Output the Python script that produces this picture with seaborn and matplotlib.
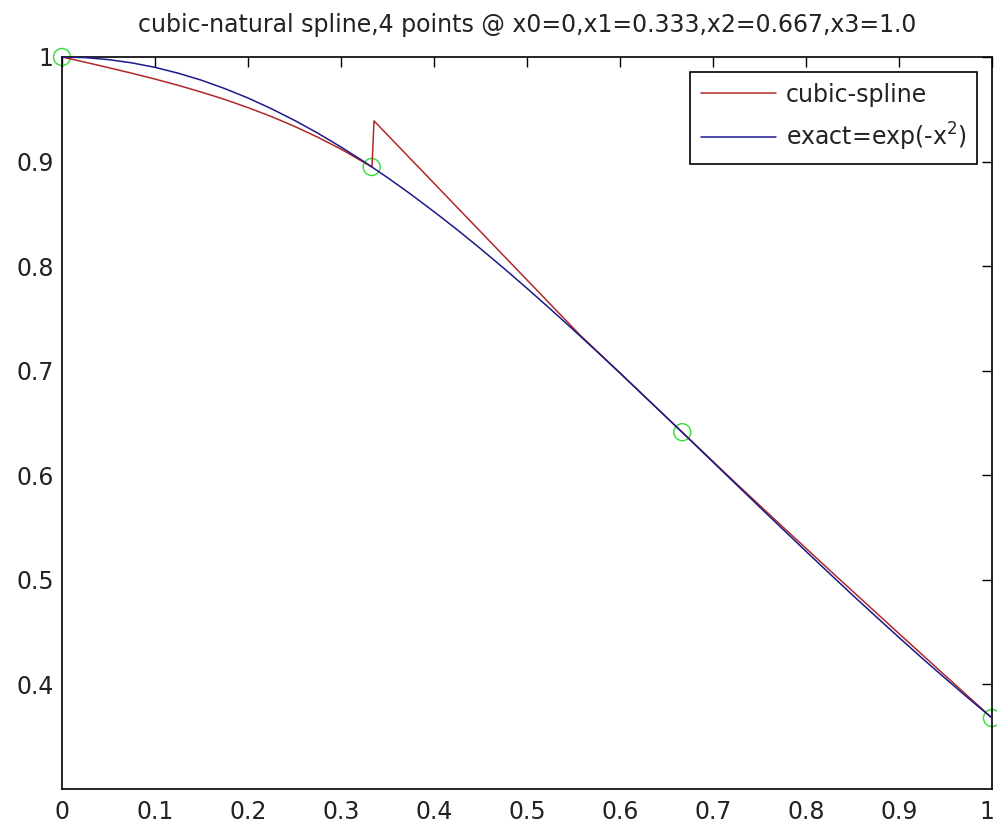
import numpy as np
import pandas as pd
import matplotlib
matplotlib.use("Agg")
import matplotlib.pyplot as plt
import matplotlib.transforms as mtransforms
import seaborn as sns

# ---- data ----
knot_x = [0.0, 0.333, 0.667, 1.0]
knot_y = [1.0, 0.8948, 0.6412, 0.3679]

spline_x = [0.0, 0.025, 0.05, 0.075, 0.10, 0.125, 0.15, 0.175, 0.20, 0.225, 0.25,
            0.275, 0.30, 0.3333, 0.3355,
            0.557, 0.60, 0.63, 0.667, 0.72, 0.77, 0.83, 0.90, 0.95, 1.0]
spline_y = [1.0, 0.9950, 0.9898, 0.9845, 0.9789, 0.9729, 0.9664, 0.9594, 0.9516,
            0.9431, 0.9337, 0.9233, 0.9119, 0.8948, 0.9389,
            0.7341, 0.6979, 0.6724, 0.6412, 0.5963, 0.5548, 0.5055, 0.4486, 0.4082, 0.3679]

exact_x = [0.0, 0.025, 0.05, 0.075, 0.10, 0.125, 0.15, 0.175, 0.20, 0.225, 0.25,
           0.275, 0.30, 0.325, 0.35, 0.375, 0.40, 0.425, 0.45, 0.475, 0.50,
           0.525, 0.55, 0.575, 0.60, 0.625, 0.65, 0.675, 0.70, 0.725, 0.75,
           0.775, 0.80, 0.825, 0.85, 0.875, 0.90, 0.925, 0.95, 0.975, 1.0]
exact_y = [1.0, 0.9994, 0.9975, 0.9944, 0.9901, 0.9845, 0.9778, 0.9698, 0.9608,
           0.9506, 0.9394, 0.9272, 0.9139, 0.8998, 0.8847, 0.8688, 0.8521,
           0.8348, 0.8167, 0.7980, 0.7788, 0.7591, 0.7390, 0.7185, 0.6977,
           0.6766, 0.6554, 0.6341, 0.6126, 0.5912, 0.5698, 0.5485, 0.5273,
           0.5063, 0.4855, 0.4651, 0.4449, 0.4250, 0.4056, 0.3865, 0.3679]

x_ticks = [0, 0.1, 0.2, 0.3, 0.4, 0.5, 0.6, 0.7, 0.8, 0.9, 1]
x_ticklabels = ["0", "0.1", "0.2", "0.3", "0.4", "0.5", "0.6", "0.7", "0.8", "0.9", "1"]
y_ticks = [0.4, 0.5, 0.6, 0.7, 0.8, 0.9, 1.0]
y_ticklabels = ["0.4", "0.5", "0.6", "0.7", "0.8", "0.9", "1"]

title = "cubic-natural spline,4 points @ x0=0,x1=0.333,x2=0.667,x3=1.0"
labels = ["cubic-spline", "exact=exp(-x$^{2}$)"]

# ---- plotting ----
sns.set_style("white")
plt.rcParams["font.family"] = ["DejaVu Sans"]
FS = 17

fig = plt.figure(figsize=(9.97, 8.25), dpi=100)
fig.patch.set_facecolor("white")
ax = fig.add_axes([62 / 997, 1 - 789 / 825, 930 / 997, (789 - 57) / 825])

df_k = pd.DataFrame({"x": knot_x, "y": knot_y})
df_s = pd.DataFrame({"x": spline_x, "y": spline_y})
df_e = pd.DataFrame({"x": exact_x, "y": exact_y})

sns.scatterplot(data=df_k, x="x", y="y", ax=ax, marker="o", s=150,
                facecolors="none", edgecolor="#33dd33", linewidth=1.0,
                clip_on=False, zorder=2, legend=False)
sns.lineplot(data=df_s, x="x", y="y", ax=ax, color="#b02828", linewidth=1.1,
             sort=False, estimator=None, label=labels[0], zorder=3)
sns.lineplot(data=df_e, x="x", y="y", ax=ax, color="#1a1a8a", linewidth=1.1,
             sort=False, estimator=None, label=labels[1], zorder=3)

ax.set_xlim(0, 1)
ax.set_ylim(0.3, 1.0)
ax.set_xticks(x_ticks)
ax.set_xticklabels(x_ticklabels)
ax.set_yticks(y_ticks)
ax.set_yticklabels(y_ticklabels)
ax.set_xlabel("")
ax.set_ylabel("")
ax.tick_params(direction="in", length=7, width=1.0, colors="black",
               top=True, right=True, labelsize=FS, pad=6)
ax.tick_params(axis="x", pad=8)
for sp in ax.spines.values():
    sp.set_visible(True)
    sp.set_color("black")
    sp.set_linewidth(1.2)
for lab in ax.get_xticklabels() + ax.get_yticklabels():
    lab.set_color("#222222")

# keep the last x tick label ("1") inside the figure edge
last = ax.get_xticklabels()[-1]
last.set_transform(last.get_transform() +
                   mtransforms.ScaledTranslation(-5 / 100, 0, fig.dpi_scale_trans))

ax.set_title(title, fontsize=FS, pad=18, color="#222222")

leg = ax.legend(loc="upper right", bbox_to_anchor=(977 / 997, 1 - 72 / 825),
                bbox_transform=fig.transFigure, borderaxespad=0,
                fontsize=FS, frameon=True, fancybox=False, framealpha=1,
                edgecolor="black", handlelength=3.2, handletextpad=0.4,
                labelspacing=0.6, borderpad=0.45)
leg.get_frame().set_linewidth(1.2)
for t in leg.get_texts():
    t.set_color("#222222")

fig.savefig("out.png", dpi=100, facecolor="white")
